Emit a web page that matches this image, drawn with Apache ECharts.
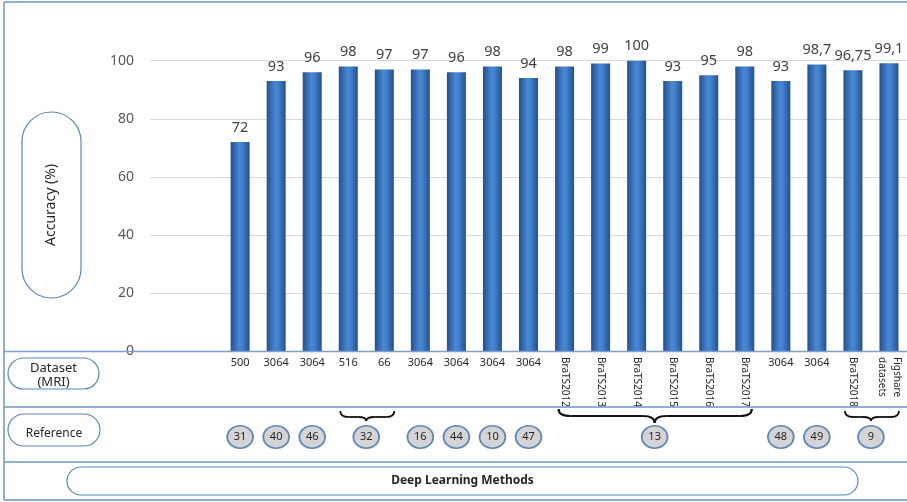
<!DOCTYPE html>
<html>
<head>
<meta charset="utf-8">
<script src="https://cdn.jsdelivr.net/npm/echarts@6/dist/echarts.min.js"></script>
<style>
  html, body { margin: 0; padding: 0; background: #ffffff; }
  #chart { width: 907px; height: 502px; }
</style>
</head>
<body>
<div id="chart"></div>
<script>
// ---- data ----
const datasets = ['500','3064','3064','516','66','3064','3064','3064','3064',
  'BraTS2012','BraTS2013','BraTS2014','BraTS2015','BraTS2016','BraTS2017',
  '3064','3064','BraTS2018','Figshare\ndatasets'];
const accuracy = [72,93,96,98,97,97,96,98,94,98,99,100,93,95,98,93,98.7,96.75,99.1];
const yTicks = [0,20,40,60,80,100];
const refLabels = ['31','40','46','32','16','44','10','47','13','48','49','9'];
const refFirst  = [0,1,2,3,5,6,7,8,9,15,16,17];
const refLast   = [0,1,2,4,5,6,7,8,14,15,16,18];
const leadingBlanks = 2;

const FONT = 'Noto Sans';
const isRotated = s => s.indexOf('BraTS') === 0 || s.indexOf('\n') >= 0;
const cats = [];
for (let i = 0; i < leadingBlanks; i++) cats.push('');
datasets.forEach(d => cats.push(d));
const barData = [];
for (let i = 0; i < leadingBlanks; i++) barData.push(null);
accuracy.forEach(v => barData.push(v));

const chart = echarts.init(document.getElementById('chart'), null, {renderer: 'canvas', width: 907, height: 502});

const option = {
  animation: false,
  backgroundColor: '#ffffff',
  grid: {left: 150, right: 0, top: 60.7, bottom: 151},
  xAxis: [{
    type: 'category',
    data: cats,
    axisLine: {show: false},
    axisTick: {show: false},
    axisLabel: {
      interval: 0, margin: 6, fontFamily: FONT, fontSize: 11, color: '#262626',
      formatter: (v) => (v && !isRotated(v)) ? v : ''
    }
  }, {
    type: 'category',
    position: 'bottom',
    data: cats,
    axisLine: {show: false},
    axisTick: {show: false},
    axisLabel: {
      interval: 0, margin: 6, rotate: -90, fontFamily: FONT, fontSize: 10, color: '#262626', lineHeight: 15,
      formatter: (v) => (v && isRotated(v)) ? v : ''
    }
  }],
  yAxis: {
    type: 'value',
    min: yTicks[0], max: yTicks[yTicks.length - 1], interval: yTicks[1] - yTicks[0],
    axisLine: {show: false},
    axisTick: {show: false},
    axisLabel: {margin: 16, fontFamily: FONT, fontSize: 14, color: '#595959'},
    splitLine: {lineStyle: {color: '#d9d9d9', width: 1}}
  },
  series: [{
    type: 'bar',
    xAxisIndex: 0,
    data: barData,
    barWidth: 19,
    itemStyle: {
      color: new echarts.graphic.LinearGradient(0, 0, 1, 0, [
        {offset: 0, color: '#25508c'},
        {offset: 0.45, color: '#4787d4'},
        {offset: 0.6, color: '#4282cf'},
        {offset: 1, color: '#25508c'}
      ])
    },
    label: {
      show: true, position: 'top', distance: 7,
      fontFamily: FONT, fontSize: 14.5, color: '#404040',
      formatter: p => String(p.value).replace('.', ',')
    }
  }]
};
chart.setOption(option);

// ---- decorations / table ----
const frame = '#6f93c4';
const g = [];
function hline(y, x1, x2, c, w) {
  g.push({type: 'line', shape: {x1: x1, y1: y, x2: x2, y2: y}, style: {stroke: c, lineWidth: w}, z: 5});
}
hline(2, 4, 907, frame, 1.5);
hline(351.5, 4, 907, '#7f9fcb', 1.5);
hline(407, 4, 907, frame, 1.5);
hline(462, 4, 907, frame, 1.5);
hline(500, 4, 907, frame, 1.5);
g.push({type: 'line', shape: {x1: 4, y1: 2, x2: 4, y2: 500}, style: {stroke: frame, lineWidth: 1.5}, z: 5});

function pill(x, y, w, h, text, fs, bold, dy) {
  g.push({type: 'rect', shape: {x: x, y: y, width: w, height: h, r: Math.min(w, h) / 2},
    style: {fill: '#ffffff', stroke: '#5b87c0', lineWidth: 1.2}, z: 6});
  g.push({type: 'text', x: x + w / 2, y: y + h / 2 + dy, z: 7,
    style: {text: text, fontFamily: FONT, fontSize: fs, fontWeight: bold ? 'bold' : 'normal',
      fill: '#262626', align: 'center', verticalAlign: 'middle', lineHeight: fs + 1}});
}
// y-axis title pill
g.push({type: 'rect', shape: {x: 22, y: 112, width: 59, height: 186, r: 29.5},
  style: {fill: '#ffffff', stroke: '#5b87c0', lineWidth: 1.2}, z: 6});
g.push({type: 'text', x: 51, y: 205, rotation: Math.PI / 2, z: 7,
  style: {text: 'Accuracy (%)', fontFamily: FONT, fontSize: 14, fill: '#262626', align: 'center', verticalAlign: 'middle'}});
pill(8, 358, 91, 31, 'Dataset\n(MRI)', 13, false, 2);
pill(8, 414, 92, 32, 'Reference', 12, false, 4);
pill(67, 467, 791, 28, 'Deep Learning Methods', 12, true, 0);

// reference markers and braces
refLabels.forEach((lab, k) => {
  const a = chart.convertToPixel({xAxisIndex: 0}, refFirst[k] + leadingBlanks);
  const b = chart.convertToPixel({xAxisIndex: 0}, refLast[k] + leadingBlanks);
  const cx = (a + b) / 2;
  const cy = 437;
  g.push({type: 'circle', x: cx, y: cy, scaleX: 1.15, shape: {cx: 0, cy: 0, r: 11.2},
    style: {fill: '#d4d4d4', stroke: '#5f87ba', lineWidth: 1.6}, z: 6});
  g.push({type: 'text', x: cx, y: cy, z: 7,
    style: {text: lab, fontFamily: FONT, fontSize: 11, fill: '#262626', align: 'center', verticalAlign: 'middle'}});
  if (b > a) {
    const big = (b - a) > 100;
    const x1 = a - (big ? 6 : 8), x2 = b + (big ? 7 : 10);
    const y0 = big ? 409 : 411, y1 = big ? 416 : 417, y2 = big ? 423 : 421;
    const d = big ? 12 : 8;
    const st = {stroke: '#111111', lineWidth: big ? 2.2 : 1.8, fill: null};
    g.push({type: 'bezierCurve', shape: {x1: x1, y1: y0, x2: x1 + d, y2: y1, cpx1: x1, cpy1: y1}, style: st, z: 6});
    g.push({type: 'line', shape: {x1: x1 + d, y1: y1, x2: cx - d, y2: y1}, style: st, z: 6});
    g.push({type: 'bezierCurve', shape: {x1: cx - d, y1: y1, x2: cx, y2: y2, cpx1: cx, cpy1: y1}, style: st, z: 6});
    g.push({type: 'bezierCurve', shape: {x1: cx, y1: y2, x2: cx + d, y2: y1, cpx1: cx, cpy1: y1}, style: st, z: 6});
    g.push({type: 'line', shape: {x1: cx + d, y1: y1, x2: x2 - d, y2: y1}, style: st, z: 6});
    g.push({type: 'bezierCurve', shape: {x1: x2 - d, y1: y1, x2: x2, y2: y0, cpx1: x2, cpy1: y1}, style: st, z: 6});
  }
});
chart.setOption({graphic: {elements: g}});
</script>
</body>
</html>
